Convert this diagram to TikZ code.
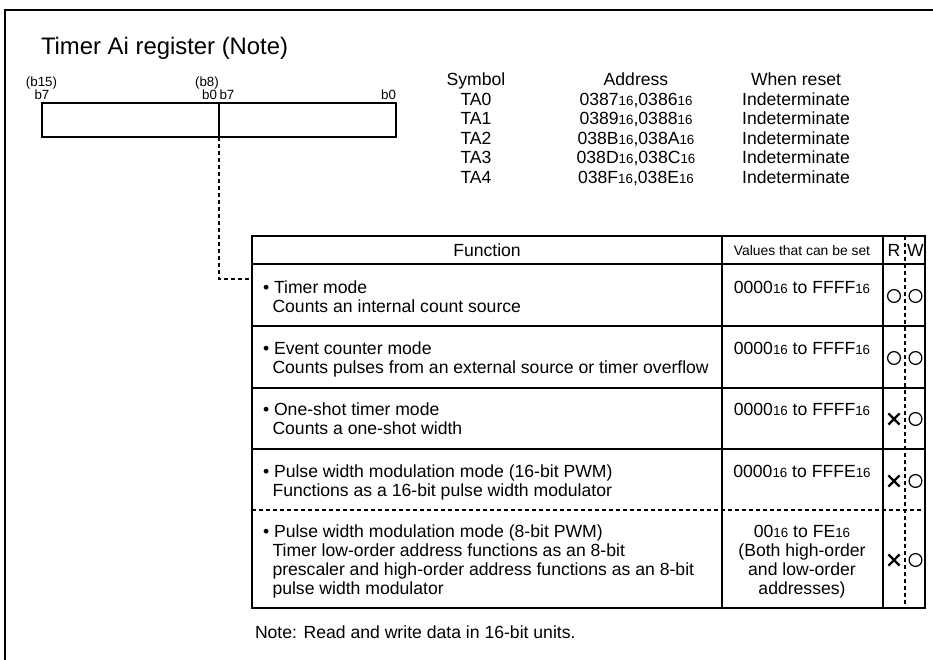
\documentclass[tikz,border=0pt]{standalone}
\usepackage{fontspec}
\setmainfont{Liberation Sans}
\usetikzlibrary{shapes.misc}
\newcommand\bodyfont{\fontsize{13.2}{15}\selectfont}
\newcommand\titlefont{\fontsize{17.9}{20}\selectfont}
\newcommand\smallfont{\fontsize{10}{11}\selectfont}
\newcommand\hdrfont{\fontsize{10.4}{12}\selectfont}
% hexadecimal number with a small "16" suffix
\newcommand\hexn[1]{#1{\smallfont 16}}
\begin{document}
\begin{tikzpicture}[x=0.75pt,y=-0.75pt]
\tikzset{
  every node/.style={inner sep=0pt, outer sep=0pt},
  txt/.style={font=\bodyfont},
  lbl/.style={font=\smallfont},
  frameline/.style={line width=1.5pt},
  boxline/.style={line width=1.1pt},
  hdrline/.style={line width=1.6pt},
  dashline/.style={line width=0.8pt, dash pattern=on 3pt off 2.25pt},
  okmark/.style={circle, draw, line width=0.9pt, minimum size=9.6pt},
  nomark/.style={cross out, draw, line width=1.6pt, minimum size=8.4pt}
}
\path[use as bounding box] (0,0) rectangle (933,660);

% page frame (top and left edge)
\draw[frameline] (933,10) -- (5,10) -- (5,660);

% title
\node[font=\titlefont, anchor=base west] (title) at (41,55) {Timer Ai register (Note)};

% register box
\draw[boxline] (42,103) rectangle (396,137);
\draw[boxline] (219,103) -- (219,137);
\coordinate (regmid) at (219,137);
\node[lbl, anchor=base] (b15) at (41.5,87) {(b15)};
\node[lbl, anchor=base] (hb7) at (42,99.3) {b7};
\node[lbl, anchor=base] (b8) at (207,87) {(b8)};
\node[lbl, anchor=base east] (hb0) at (217,99.3) {b0};
\node[lbl, anchor=base west] (lb7) at (219.5,99.3) {b7};
\node[lbl, anchor=base east] (lb0) at (396,99.3) {b0};

% address table
\foreach \yy/\s/\a/\r [count=\i] in {
  86/Symbol/Address/When reset,
  105.5/TA0/{\hexn{0387},\hexn{0386}}/Indeterminate,
  125/TA1/{\hexn{0389},\hexn{0388}}/Indeterminate,
  144.5/TA2/{\hexn{038B},\hexn{038A}}/Indeterminate,
  164/TA3/{\hexn{038D},\hexn{038C}}/Indeterminate,
  183.5/TA4/{\hexn{038F},\hexn{038E}}/Indeterminate}{
  \node[txt, anchor=base] (sym\i) at (476,\yy) {\s};
  \node[txt, anchor=base] (adr\i) at (636,\yy) {\a};
  \node[txt, anchor=base] (rst\i) at (796,\yy) {\r};
}

% function table: outline, rows and columns
\draw[boxline] (252,236) rectangle (925,608);
\draw[hdrline] (252,264) -- (925,264);
\draw[boxline] (252,326) -- (925,326);
\draw[boxline] (252,388) -- (925,388);
\draw[boxline] (252,449) -- (925,449);
\draw[dashline] (252,510) -- (925,510);
\draw[boxline] (722,236) -- (722,608);
\draw[boxline] (883,236) -- (883,608);
\draw[dashline] (905,236) -- (905,608);

% header
\node[txt, anchor=base] (hfun) at (487,256) {Function};
\node[font=\hdrfont, anchor=base] (hval) at (802,255.5) {Values that can be set};
\node[txt, anchor=base] (hr) at (894,256) {R};
\node[txt, anchor=base] (hw) at (915.5,256) {W};

% connector from the register to the table
\coordinate (tabin) at (252,279);
\draw[dashline] (regmid) |- (tabin);

% rows
\node[txt, anchor=base west] (f1a) at (263,293) {\textbullet\ Timer mode};
\node[txt, anchor=base west] (f1b) at (272.5,312) {Counts an internal count source};
\node[txt, anchor=base] (v1) at (802,293) {\hexn{0000} to \hexn{FFFF}};
\node[okmark] (r1) at (894,296) {};
\node[okmark] (w1) at (915.5,296) {};

\node[txt, anchor=base west] (f2a) at (263,354) {\textbullet\ Event counter mode};
\node[txt, anchor=base west] (f2b) at (272.5,373) {Counts pulses from an external source or timer overflow};
\node[txt, anchor=base] (v2) at (802,354) {\hexn{0000} to \hexn{FFFF}};
\node[okmark] (r2) at (894,358) {};
\node[okmark] (w2) at (915.5,358) {};

\node[txt, anchor=base west] (f3a) at (263,415) {\textbullet\ One-shot timer mode};
\node[txt, anchor=base west] (f3b) at (272.5,434) {Counts a one-shot width};
\node[txt, anchor=base] (v3) at (802,415) {\hexn{0000} to \hexn{FFFF}};
\node[nomark] (r3) at (894,419) {};
\node[okmark] (w3) at (915.5,419) {};

\node[txt, anchor=base west] (f4a) at (263,477) {\textbullet\ Pulse width modulation mode (16-bit PWM)};
\node[txt, anchor=base west] (f4b) at (272.5,496) {Functions as a 16-bit pulse width modulator};
\node[txt, anchor=base] (v4) at (802,477) {\hexn{0000} to \hexn{FFFE}};
\node[nomark] (r4) at (894,481) {};
\node[okmark] (w4) at (915.5,481) {};

\node[txt, anchor=base west] (f5a) at (263,537) {\textbullet\ Pulse width modulation mode (8-bit PWM)};
\node[txt, anchor=base west] (f5b) at (272.5,556.3) {Timer low-order address functions as an 8-bit};
\node[txt, anchor=base west] (f5c) at (272.5,575.6) {prescaler and high-order address functions as an 8-bit};
\node[txt, anchor=base west] (f5d) at (272.5,594.9) {pulse width modulator};
\node[txt, anchor=base] (v5a) at (802,537) {\hexn{00} to \hexn{FE}};
\node[txt, anchor=base] (v5b) at (802,556.3) {(Both high-order};
\node[txt, anchor=base] (v5c) at (802,575.6) {and low-order};
\node[txt, anchor=base] (v5d) at (802,594.9) {addresses)};
\node[nomark] (r5) at (894,560) {};
\node[okmark] (w5) at (915.5,560) {};

% note
\node[txt, anchor=base west] (note) at (255,638) {Note: Read and write data in 16-bit units.};
\end{tikzpicture}
\end{document}
